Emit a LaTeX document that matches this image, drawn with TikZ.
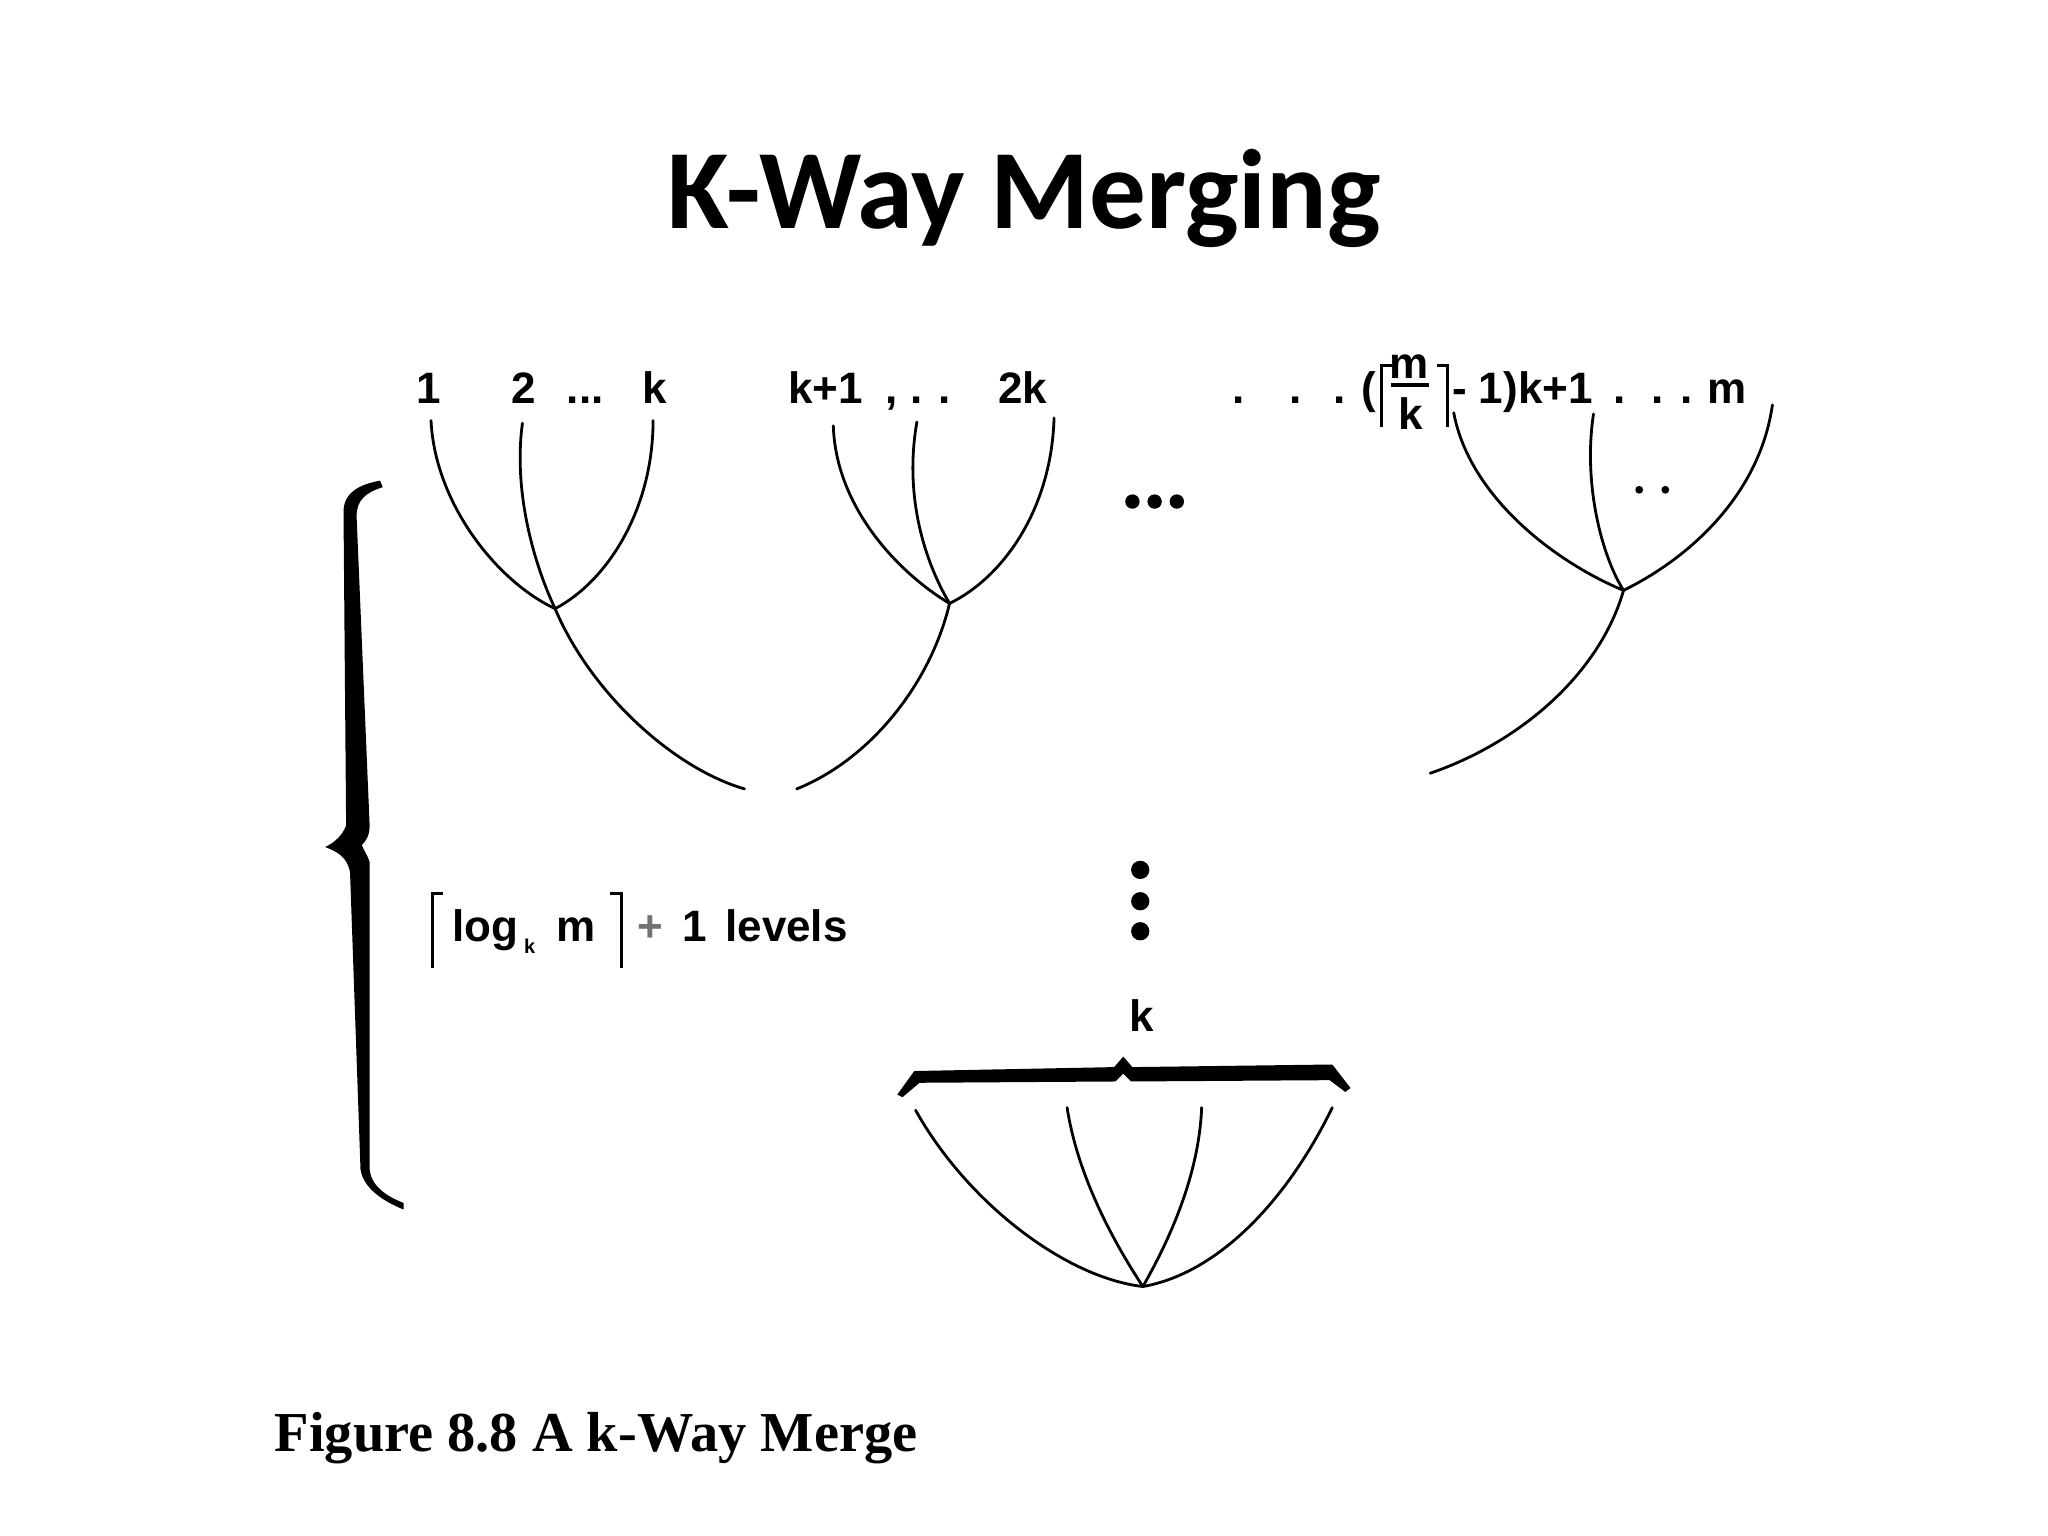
\documentclass[tikz,border=0pt]{standalone}
\usepackage{fontspec}
\setmainfont{Liberation Sans}
\newfontfamily\titlefont{Carlito}
\newfontfamily\capfont{Liberation Serif}
\begin{document}
\begin{tikzpicture}[x=0.653pt,y=-0.653pt,
  lab/.style={font=\bfseries\fontsize{22}{26}\selectfont, inner sep=0pt, anchor=base},
  edge/.style={line width=1.4pt, line cap=round},
  bar/.style={line width=1.6pt},
  dotmark/.style={fill=black, draw=none}]
\useasboundingbox (0,0) rectangle (1568,1176);
\fill[white] (0,0) rectangle (1568,1176);

% title
\node[inner sep=0pt, anchor=base, font=\titlefont\bfseries\fontsize{56.5}{60}\selectfont] (title) at (784,175) {K-Way Merging};

% ---------- top labels, tree A
\node[lab] (l1) at (328,309) {1};
\node[lab] (l2) at (401,309) {2};
\node[lab] (ld1) at (448,309) {...};
\node[lab] (lk) at (501,309) {k};
% tree B
\node[lab] (lk1) at (632,309) {k+1};
\node[lab] (ld2) at (703,309) {, . .};
\node[lab] (l2k) at (783,309) {2k};
% tree C
\node[lab] (cd1) at (948,309) {.};
\node[lab] (cd2) at (992,309) {.};
\node[lab] (cd3) at (1026,309) {.};
\node[lab] (cpar) at (1048,309) {(};
\draw[bar] (1066,280) -- (1058,280) -- (1058,327);
\node[lab] (cm) at (1079,290) {m};
\draw[line width=2pt] (1065,295) -- (1094,295);
\node[lab] (ck) at (1080,329) {k};
\draw[bar] (1100,280) -- (1108,280) -- (1108,327);
\node[lab] (cminus) at (1118,309) {-};
\node[lab, anchor=base west] (ck1) at (1132,309) {1)k+1};
\node[lab, anchor=base west] (cdots) at (1235,309) {.\hspace{12.9pt}.\hspace{8.3pt}.};
\node[lab] (cmm) at (1322,309) {m};

% ---------- tree A
\coordinate (a1) at (330,322);
\coordinate (a2) at (400,324);
\coordinate (a3) at (500,322);
\coordinate (am) at (425,466);
\coordinate (ae) at (570,604);
\draw[edge] (a1) .. controls (333,385) and (380,445) .. (am);
\draw[edge] (a2) .. controls (393,375) and (408,430) .. (am);
\draw[edge] (a3) .. controls (500,390) and (465,445) .. (am);
\draw[edge] (am) .. controls (452,530) and (515,588) .. (ae);

% ---------- tree B
\coordinate (b1) at (638,326);
\coordinate (b2) at (702,323);
\coordinate (b3) at (807,320);
\coordinate (bm) at (727,462);
\coordinate (be) at (610,604);
\draw[edge] (b1) .. controls (640,390) and (690,440) .. (bm);
\draw[edge] (b2) .. controls (692,380) and (708,430) .. (bm);
\draw[edge] (b3) .. controls (805,390) and (768,442) .. (bm);
\draw[edge] (bm) .. controls (712,525) and (665,582) .. (be);

% ---------- tree C
\coordinate (c1) at (1113,316);
\coordinate (c2) at (1220,317);
\coordinate (c3) at (1357,310);
\coordinate (cmg) at (1243,452);
\coordinate (ce) at (1095,592);
\draw[edge] (c1) .. controls (1125,380) and (1190,430) .. (cmg);
\draw[edge] (c2) .. controls (1212,370) and (1226,425) .. (cmg);
\draw[edge] (c3) .. controls (1347,380) and (1292,428) .. (cmg);
\draw[edge] (cmg) .. controls (1225,515) and (1165,568) .. (ce);
\fill[dotmark] (1255,375) circle (3);
\fill[dotmark] (1275,375) circle (3);

% ellipsis between trees
\fill[dotmark] (867,384) circle (5.5);
\fill[dotmark] (884,384) circle (5.5);
\fill[dotmark] (901,384) circle (5.5);

% vertical dots
\fill[dotmark] (873,666) circle (7);
\fill[dotmark] (873,690) circle (7);
\fill[dotmark] (873,713) circle (7);

% k label and bottom brace
\node[lab] (bk) at (874,790) {k};
\fill (687,838) -- (700,820) -- (853,817) -- (860,809) -- (867,817) -- (1020,815) -- (1034,833)
  -- (1030,836) -- (1018,827) -- (866,828) -- (860,822) -- (854,828) -- (704,829) -- (691,840) -- cycle;

% ---------- bottom tree
\coordinate (d1) at (701,850);
\coordinate (d2) at (817,848);
\coordinate (d3) at (920,848);
\coordinate (d4) at (1020,848);
\coordinate (dm) at (875,985);
\draw[edge] (d1) .. controls (740,920) and (815,978) .. (dm);
\draw[edge] (d2) .. controls (825,900) and (852,950) .. (dm);
\draw[edge] (d3) .. controls (918,900) and (895,950) .. (dm);
\draw[edge] (d4) .. controls (985,920) and (932,975) .. (dm);

% ---------- left brace
\fill (291,368) .. controls (275,371) and (263,377) .. (263,392) -- (265,632)
  .. controls (262,640) and (256,645) .. (249,648.5)
  .. controls (258,652) and (266,656) .. (268,668) -- (276,895)
  .. controls (278,910) and (294,920) .. (309,926) -- (309,921)
  .. controls (296,916) and (284,908) .. (283,895) -- (283,660)
  .. controls (281,654) and (278,650) .. (277,647)
  .. controls (280,644) and (283,640) .. (283,632) -- (273,395)
  .. controls (273,383) and (280,377) .. (293,373) -- cycle;

% ---------- levels label
\draw[bar] (339,684) -- (331,684) -- (331,741);
\node[lab, anchor=base west] (llog) at (346,721) {log};
\node[inner sep=0pt, anchor=base west, font=\bfseries\fontsize{10}{11}\selectfont] (lsub) at (401,730) {k};
\node[lab, anchor=base west] (lm) at (426,721) {m};
\draw[bar] (467,684) -- (476,684) -- (476,741);
\node[lab, text=black!55] (lplus) at (498,721) {+};
\node[lab] (lone) at (532,721) {1};
\node[lab, anchor=base west] (llev) at (555,721) {levels};

% ---------- caption
\node[inner sep=0pt, anchor=base west, font=\capfont\bfseries\fontsize{28.2}{31}\selectfont] (cap) at (210,1111) {Figure 8.8 A k-Way Merge};
\end{tikzpicture}
\end{document}
